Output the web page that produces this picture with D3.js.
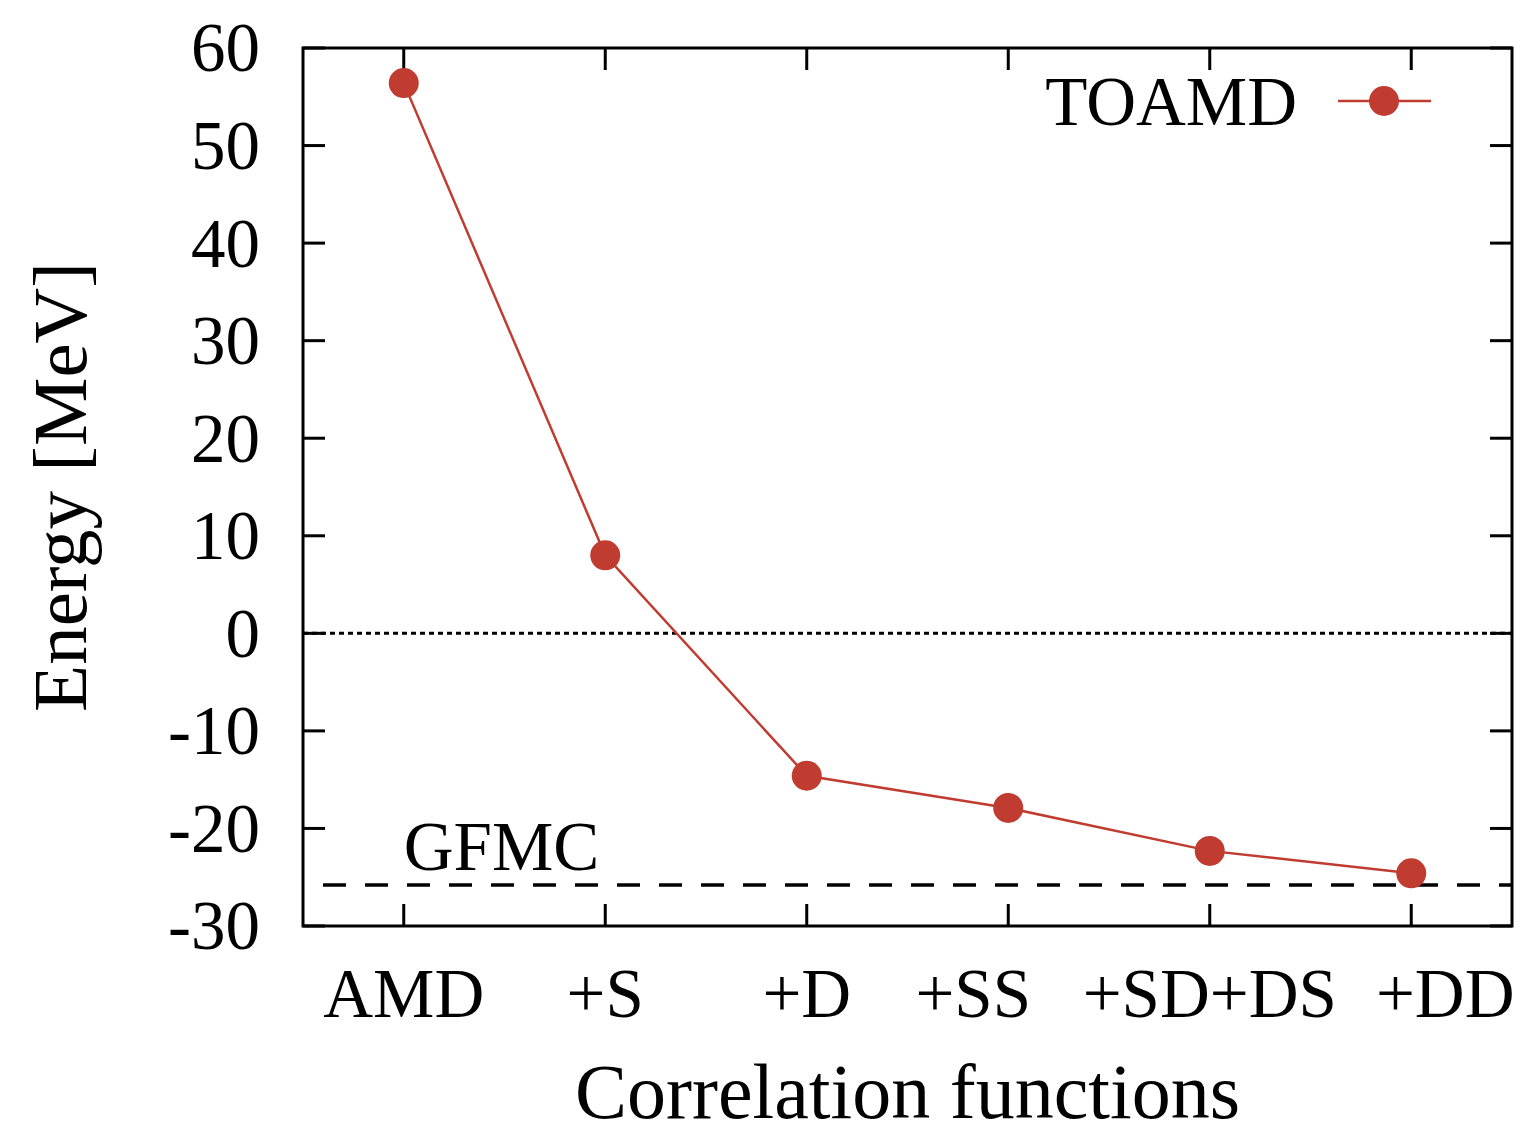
<!DOCTYPE html>
<html>
<head>
<meta charset="utf-8">
<script src="https://cdn.jsdelivr.net/npm/d3@7"></script>
<style>
  html, body { margin: 0; padding: 0; background: #fff; }
  text { font-family: "Liberation Serif", "DejaVu Serif", serif; fill: #000; }
</style>
</head>
<body>
<svg id="chart" width="1527" height="1137"></svg>
<script>
// ---- data ----
const categories = ["AMD", "+S", "+D", "+SS", "+SD+DS", "+DD"];
const toamdValues = [56.4, 8.0, -14.6, -17.9, -22.3, -24.6];
const gfmcValue = -25.8;
const yTicks = [60, 50, 40, 30, 20, 10, 0, -10, -20, -30];
const seriesName = "TOAMD";
const refName = "GFMC";

// ---- layout ----
const W = 1527, H = 1137;
const m = { left: 303, right: 1512, top: 48, bottom: 926 };
const labelShift = [0, 0, 0, -35, 0, 34];
const red = "#c03b30";

const svg = d3.select("#chart");

const x = d3.scaleLinear().domain([0.5, categories.length + 0.5]).range([m.left, m.right]);
const y = d3.scaleLinear().domain([-30, 60]).range([m.bottom, m.top]);

const idx = categories.map((_, i) => i + 1);

// ticks (inward, mirrored)
const tickLen = 22;
const axisG = svg.append("g").attr("stroke", "#000").attr("stroke-width", 3);
yTicks.forEach(t => {
  axisG.append("line").attr("x1", m.left).attr("x2", m.left + tickLen).attr("y1", y(t)).attr("y2", y(t));
  axisG.append("line").attr("x1", m.right).attr("x2", m.right - tickLen).attr("y1", y(t)).attr("y2", y(t));
});
idx.forEach(i => {
  axisG.append("line").attr("x1", x(i)).attr("x2", x(i)).attr("y1", m.bottom).attr("y2", m.bottom - tickLen);
  axisG.append("line").attr("x1", x(i)).attr("x2", x(i)).attr("y1", m.top).attr("y2", m.top + tickLen);
});

// y tick labels
svg.append("g").selectAll("text").data(yTicks).join("text")
  .attr("x", 260).attr("y", d => y(d)).attr("dy", "0.34em")
  .attr("text-anchor", "end").attr("font-size", 69)
  .text(d => d);

// x tick labels
svg.append("g").selectAll("text").data(categories).join("text")
  .attr("x", (d, i) => x(i + 1) + labelShift[i]).attr("y", 1017)
  .attr("text-anchor", "middle").attr("font-size", 69)
  .text(d => d);

// zero dotted line
svg.append("line")
  .attr("x1", m.left).attr("x2", m.right).attr("y1", y(0)).attr("y2", y(0))
  .attr("stroke", "#000").attr("stroke-width", 3).attr("stroke-dasharray", "5,4");

// GFMC dashed line
svg.append("line")
  .attr("x1", m.left).attr("x2", m.right).attr("y1", y(gfmcValue)).attr("y2", y(gfmcValue))
  .attr("stroke", "#000").attr("stroke-width", 3.5).attr("stroke-dasharray", "23,19")
  .attr("stroke-dashoffset", 22);

svg.append("text").attr("x", x(1)).attr("y", 870).attr("font-size", 69).text(refName);

// series line
const pts = idx.map((i, k) => [x(i), y(toamdValues[k])]);
svg.append("path").attr("d", d3.line()(pts))
  .attr("fill", "none").attr("stroke", red).attr("stroke-width", 2.5);
svg.append("g").selectAll("circle").data(pts).join("circle")
  .attr("cx", d => d[0]).attr("cy", d => d[1]).attr("r", 15).attr("fill", red);

// frame
svg.append("rect").attr("x", m.left).attr("y", m.top)
  .attr("width", m.right - m.left).attr("height", m.bottom - m.top)
  .attr("fill", "none").attr("stroke", "#000").attr("stroke-width", 3);

// legend
svg.append("text").attr("x", 1297).attr("y", 125).attr("text-anchor", "end")
  .attr("font-size", 69).text(seriesName);
svg.append("line").attr("x1", 1338).attr("x2", 1431).attr("y1", 101).attr("y2", 101)
  .attr("stroke", red).attr("stroke-width", 2.5);
svg.append("circle").attr("cx", 1384).attr("cy", 101).attr("r", 15).attr("fill", red);

// axis titles
svg.append("text").attr("x", (m.left + m.right) / 2).attr("y", 1118)
  .attr("text-anchor", "middle").attr("font-size", 78).text("Correlation functions");
svg.append("text")
  .attr("transform", `translate(86,${(m.top + m.bottom) / 2}) rotate(-90)`)
  .attr("text-anchor", "middle").attr("font-size", 77).text("Energy [MeV]");
</script>
</body>
</html>
